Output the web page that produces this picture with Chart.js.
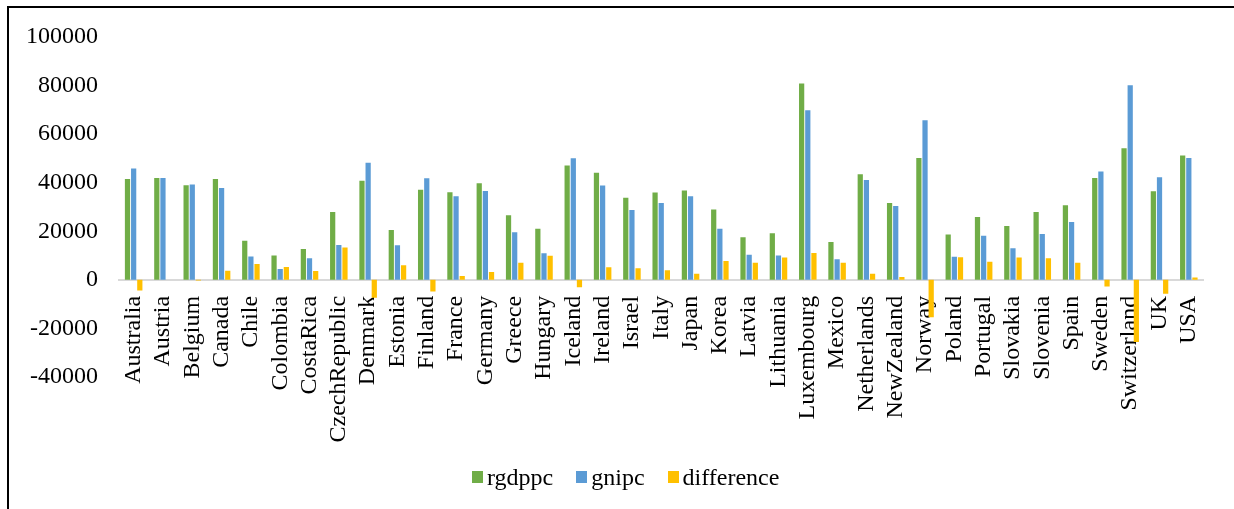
<!DOCTYPE html>
<html>
<head>
<meta charset="utf-8">
<script src="https://cdn.jsdelivr.net/npm/chart.js@4/dist/chart.umd.min.js"></script>
<style>
  html, body { margin: 0; padding: 0; background: #fff; }
  #wrap { position: relative; width: 1234px; height: 509px; overflow: hidden; }
  #frame { position: absolute; left: 7px; top: 6px; width: 1400px; height: 600px;
           border-top: 2px solid #000; border-left: 2px solid #000; pointer-events: none; }
  #legend { position: absolute; left: 472px; top: 463px; height: 28px; display: flex; align-items: center;
            font-family: "Liberation Serif", "Times New Roman", serif; font-size: 24px; color: #000; }
  #legend .item { display: flex; align-items: center; margin-right: 23px; }
  #legend .box { width: 11px; height: 12px; margin-right: 4px; }
</style>
</head>
<body>
<div id="wrap">
  <canvas id="myChart" width="1234" height="509"></canvas>
  <div id="frame"></div>
  <div id="legend"></div>
</div>
<script>
    //-------------------------------------------------- data
    const countries = ["Australia", "Austria", "Belgium", "Canada", "Chile", "Colombia", "CostaRica",
        "CzechRepublic", "Denmark", "Estonia", "Finland", "France", "Germany", "Greece", "Hungary",
        "Iceland", "Ireland", "Israel", "Italy", "Japan", "Korea", "Latvia", "Lithuania", "Luxembourg",
        "Mexico", "Netherlands", "NewZealand", "Norway", "Poland", "Portugal", "Slovakia", "Slovenia",
        "Spain", "Sweden", "Switzerland", "UK", "USA"];
    const rgdppc = [41500, 41900, 39000, 41500, 16100, 10000, 12700, 27900, 40800, 20500, 37100, 36100,
        39800, 26600, 21000, 47100, 44100, 33800, 36000, 36800, 29000, 17500, 19200, 80900, 15600, 43500,
        31600, 50200, 18700, 25900, 22200, 27900, 30700, 41900, 54200, 36500, 51200];
    const gnipc = [45900, 41900, 39300, 37800, 9600, 4500, 8900, 14400, 48200, 14300, 41800, 34400,
        36600, 19600, 11000, 50100, 38900, 28800, 31600, 34400, 21000, 10300, 10000, 69800, 8500, 41100,
        30400, 65700, 9500, 18200, 13000, 18900, 23800, 44600, 80100, 42300, 50200];
    const difference = [-4400, 0, -300, 3700, 6500, 5300, 3600, 13300, -7400, 6000, -4800, 1600, 3200,
        7000, 9900, -3000, 5200, 4800, 4000, 2500, 7800, 7000, 9200, 11100, 7000, 2500, 1200, -15400,
        9300, 7500, 9200, 8900, 7000, -2700, -25600, -5700, 1000];
    const yTicks = [-40000, -20000, 0, 20000, 40000, 60000, 80000, 100000];
    //^^^^^^^^^^^^^^^^^^^^^^^^^^^^^^^^^^^^^^^^^^^^^^^^^^ data

    const font = { family: "'Liberation Serif', 'Times New Roman', serif", size: 24 };
    const series = [
        { label: "rgdppc", data: rgdppc, color: "#70AD47" },
        { label: "gnipc", data: gnipc, color: "#5B9BD5" },
        { label: "difference", data: difference, color: "#FFC000" }
    ];

    new Chart(document.getElementById('myChart'), {
        type: 'bar',
        data: {
            labels: countries,
            datasets: series.map(s => ({
                label: s.label,
                data: s.data,
                backgroundColor: s.color,
                borderWidth: 0,
                categoryPercentage: 0.63,
                barPercentage: 0.85
            }))
        },
        options: {
            responsive: false,
            animation: false,
            layout: { padding: { left: 5, right: 28, top: 37, bottom: 132 } },
            plugins: { legend: { display: false }, tooltip: { enabled: false } },
            scales: {
                x: {
                    position: { y: 0 },
                    grid: { display: false, drawTicks: false },
                    border: { display: true, color: '#D9D9D9', width: 2 },
                    ticks: { color: '#000', font: font, minRotation: 90, maxRotation: 90, padding: 16, autoSkip: false }
                },
                y: {
                    min: -40000,
                    max: 100000,
                    grid: { display: false, drawTicks: false },
                    border: { display: false },
                    afterBuildTicks: axis => { axis.ticks = yTicks.map(v => ({ value: v })); },
                    ticks: { color: '#000', font: font, padding: 21, callback: v => String(v) }
                }
            }
        }
    });

    // legend
    const legend = document.getElementById('legend');
    series.forEach(s => {
        const item = document.createElement('div');
        item.className = 'item';
        item.innerHTML = '<span class="box" style="background:' + s.color + '"></span><span>' + s.label + '</span>';
        legend.appendChild(item);
    });
</script>
</body>
</html>
